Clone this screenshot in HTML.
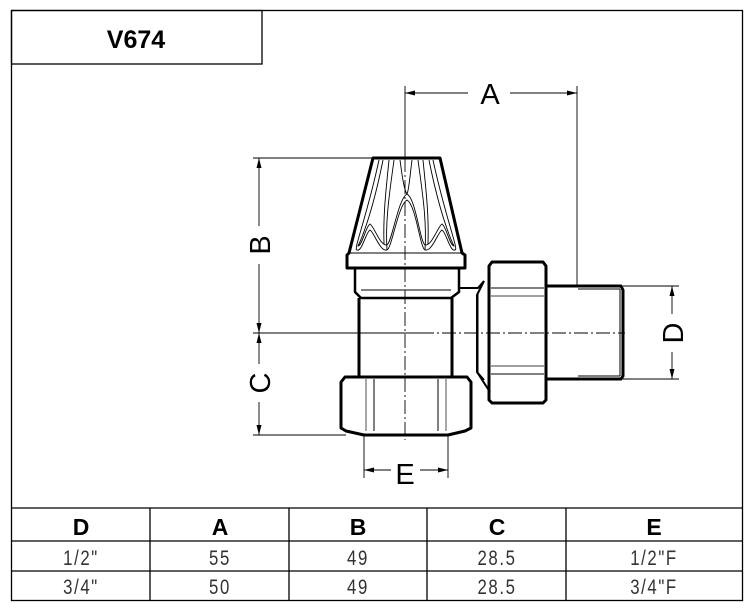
<!DOCTYPE html>
<html><head><meta charset="utf-8"><style>
html,body{margin:0;padding:0;background:#fff;}
svg{display:block;}
.t{font-family:"Liberation Sans",sans-serif;}
</style></head><body>
<svg width="753" height="609" viewBox="0 0 753 609" xmlns="http://www.w3.org/2000/svg">
<rect x="0" y="0" width="753" height="609" fill="#fff"/>
<rect x="11.5" y="10.5" width="731" height="590" fill="none" stroke="#000" stroke-width="1.3"/>
<rect x="11.5" y="10.5" width="250.5" height="53.5" fill="none" stroke="#000" stroke-width="1.3"/>
<text x="136" y="48" text-anchor="middle" class="t" font-weight="bold" font-size="25">V674</text>
<g stroke="#000" stroke-width="1.3">
<line x1="11" y1="508" x2="743" y2="508"/>
<line x1="11" y1="541" x2="743" y2="541"/>
<line x1="11" y1="571" x2="743" y2="571"/>
<line x1="150" y1="508" x2="150" y2="601"/>
<line x1="289" y1="508" x2="289" y2="601"/>
<line x1="427" y1="508" x2="427" y2="601"/>
<line x1="566" y1="508" x2="566" y2="601"/>
</g>
<g class="t" font-weight="bold" font-size="23" text-anchor="middle">
<text x="81" y="535">D</text><text x="220" y="535">A</text><text x="358" y="535">B</text><text x="497" y="535">C</text><text x="654" y="535">E</text>
</g>
<g class="t" font-size="21" text-anchor="middle" fill="#333" letter-spacing="2">
<text x="81" y="565" transform="translate(81,0) scale(0.8,1) translate(-81,0)">1/2"</text>
<text x="220" y="565" transform="translate(220,0) scale(0.8,1) translate(-220,0)">55</text>
<text x="358" y="565" transform="translate(358,0) scale(0.8,1) translate(-358,0)">49</text>
<text x="497" y="565" transform="translate(497,0) scale(0.8,1) translate(-497,0)">28.5</text>
<text x="654" y="565" transform="translate(654,0) scale(0.8,1) translate(-654,0)">1/2"F</text>
<text x="81" y="594" transform="translate(81,0) scale(0.8,1) translate(-81,0)">3/4"</text>
<text x="220" y="594" transform="translate(220,0) scale(0.8,1) translate(-220,0)">50</text>
<text x="358" y="594" transform="translate(358,0) scale(0.8,1) translate(-358,0)">49</text>
<text x="497" y="594" transform="translate(497,0) scale(0.8,1) translate(-497,0)">28.5</text>
<text x="654" y="594" transform="translate(654,0) scale(0.8,1) translate(-654,0)">3/4"F</text>
</g>
<g fill="none" stroke="#000" stroke-linejoin="round">
<path d="M373,158 L440,158 L462,253 L465,255 L465,268 L347,268 L347,255 L349,253 Z" stroke-width="3"/>
<line x1="349" y1="253" x2="462" y2="253" stroke-width="1"/>
<g stroke-width="0.9">
<path d="M379,160 C366,220 353,250 357,250 C362,252 366,232 370,230 C374,232 380,252 387,250 C392,248 398,205 407,200 C416,205 420,248 425,250 C432,252 438,232 442,230 C446,232 450,252 455,250 C459,250 446,220 433,160"/>
<path d="M383,160 C371,220 359,244 358,246 C362,246 366,226 370,224 C374,226 380,246 387,245 C392,242 398,199 407,194 C416,199 420,242 425,245 C432,246 438,226 442,224 C446,226 450,246 454,246 C453,244 441,220 429,160"/>
<path d="M387,250 C385,220 390,190 394,160"/>
<path d="M384,244 C383,215 386,190 389,160"/>
<path d="M425,250 C427,220 422,190 418,160"/>
<path d="M428,244 C429,215 426,190 423,160"/>
<path d="M400,160 C402,175 404,190 407,194"/>
<path d="M412,160 C410,175 409,190 407,194"/>
</g>
<path d="M355,268 L355,292 L361,298 L451,298 L459,292 L459,268" stroke-width="2.5"/>
<line x1="361" y1="290" x2="451" y2="290" stroke-width="1"/>
<line x1="359" y1="298" x2="359" y2="377" stroke-width="3"/>
<line x1="452" y1="298" x2="452" y2="377" stroke-width="3"/>
<path d="M345,377 L467,377 L471,382 L471,428 L465,431 L448,435 L364,435 L346,431 L341,428 L341,382 Z" stroke-width="3"/>
<line x1="374" y1="379" x2="374" y2="431" stroke-width="1"/>
<line x1="438" y1="379" x2="438" y2="431" stroke-width="1"/>
<line x1="366" y1="379" x2="366" y2="431" stroke-width="0.7"/>
<line x1="446" y1="379" x2="446" y2="431" stroke-width="0.7"/>
<path d="M459,288 L478,288 L484,281" stroke-width="2"/>
<path d="M484,281 L477,295 L477,372 L484,380" stroke-width="2"/>
<line x1="478" y1="294" x2="478" y2="374" stroke-width="1"/>
<path d="M477,372 L490,392" stroke-width="2"/>
<path d="M492,262 L543,262 L546,266 L546,400 L543,403 L492,403 L489,400 L489,266 Z" stroke-width="3"/>
<line x1="491" y1="288" x2="544" y2="288" stroke-width="1"/>
<line x1="491" y1="296" x2="544" y2="296" stroke-width="0.8"/>
<line x1="491" y1="366" x2="544" y2="366" stroke-width="0.8"/>
<line x1="491" y1="374" x2="544" y2="374" stroke-width="1"/>
<path d="M546,286 L621,286 L623,290 L623,376 L621,379 L546,379" stroke-width="3"/>
<line x1="578" y1="289" x2="620" y2="289" stroke-width="1"/>
<line x1="578" y1="376" x2="620" y2="376" stroke-width="1"/>
<line x1="620" y1="289" x2="620" y2="376" stroke-width="1"/>
</g>
<g stroke="#000" stroke-width="0.9">
<line x1="405" y1="86" x2="405" y2="158"/>
<line x1="405" y1="158" x2="405" y2="440" stroke-dasharray="14,3,2,3"/>
<line x1="253" y1="333" x2="420" y2="333"/>
<line x1="420" y1="333" x2="625" y2="333" stroke-dasharray="14,3,2,3"/>
<line x1="577" y1="86" x2="577" y2="286"/>
<line x1="405" y1="93" x2="468" y2="93"/><line x1="510" y1="93" x2="577" y2="93"/>
<line x1="253" y1="158" x2="373" y2="158"/>
<line x1="253" y1="435" x2="346" y2="435"/>
<line x1="259" y1="158" x2="259" y2="226"/><line x1="259" y1="264" x2="259" y2="364"/><line x1="259" y1="402" x2="259" y2="435"/>
<line x1="623" y1="286" x2="679" y2="286"/>
<line x1="623" y1="379" x2="679" y2="379"/>
<line x1="672" y1="286" x2="672" y2="314"/><line x1="672" y1="352" x2="672" y2="379"/>
<line x1="364" y1="435" x2="364" y2="478"/><line x1="448" y1="435" x2="448" y2="478"/>
<line x1="364" y1="470" x2="391" y2="470"/><line x1="420" y1="470" x2="448" y2="470"/>
</g>
<g fill="#000">
<path d="M405,93 l10,-2.5 v5 z"/><path d="M577,93 l-10,-2.5 v5 z"/>
<path d="M259,158 l-2.5,10 h5 z"/><path d="M259,333 l-2.5,-10 h5 z"/>
<path d="M259,333 l-2.5,10 h5 z"/><path d="M259,435 l-2.5,-10 h5 z"/>
<path d="M672,286 l-2.5,10 h5 z"/><path d="M672,379 l-2.5,-10 h5 z"/>
<path d="M364,470 l10,-2.5 v5 z"/><path d="M448,470 l-10,-2.5 v5 z"/>
</g>
<g class="t" font-size="29" text-anchor="middle">
<text x="490" y="104">A</text>
<text x="405" y="484">E</text>
<text transform="translate(270,245) rotate(-90)">B</text>
<text transform="translate(270,383) rotate(-90)">C</text>
<text transform="translate(683,333) rotate(-90)">D</text>
</g>
</svg>
</body></html>
